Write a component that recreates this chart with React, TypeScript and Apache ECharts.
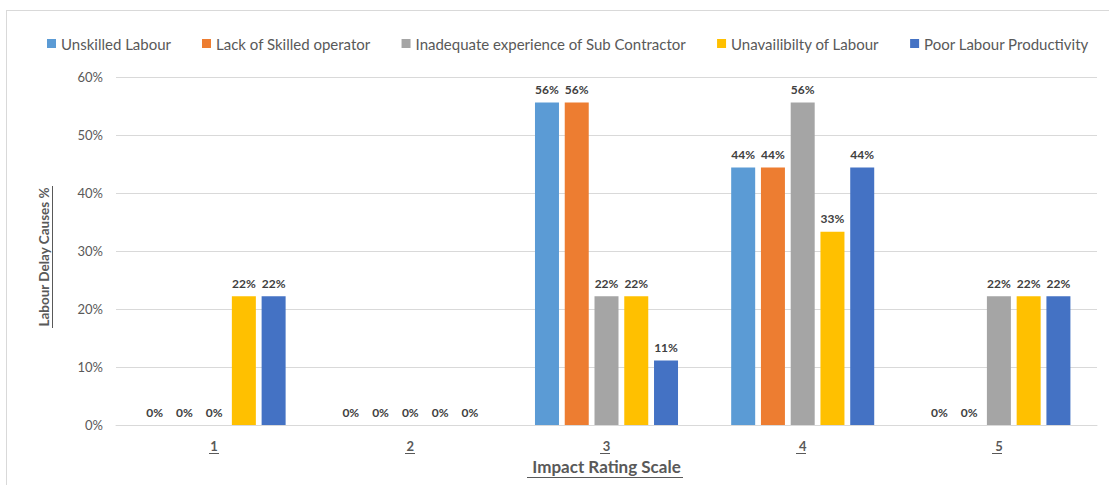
import React, { useEffect, useRef } from "react";
import * as echarts from "echarts";

const categories = ["1", "2", "3", "4", "5"];
const seriesNames = [
  "Unskilled Labour",
  "Lack of Skilled operator",
  "Inadequate experience of Sub Contractor",
  "Unavailibilty of Labour",
  "Poor Labour Productivity",
];
const unskilledLabour = [0, 0, 55.6, 44.4, 0];
const lackOfSkilledOperator = [0, 0, 55.6, 44.4, 0];
const inadequateExperience = [0, 0, 22.2, 55.6, 22.2];
const unavailability = [22.2, 0, 22.2, 33.3, 22.2];
const poorProductivity = [22.2, 0, 11.1, 44.4, 22.2];
const colors = ["#5B9BD5", "#ED7D31", "#A5A5A5", "#FFC000", "#4472C4"];
const yTicks = [0, 10, 20, 30, 40, 50, 60];

const FONT = "Lato, 'Open Sans', sans-serif";

export default function App() {
  const ref = useRef<HTMLDivElement>(null);
  useEffect(() => {
    if (!ref.current) return;
    const chart = echarts.init(ref.current, null, { renderer: "svg" });
    const values = [unskilledLabour, lackOfSkilledOperator, inadequateExperience, unavailability, poorProductivity];
    const series = values.map((d, i) => ({
      name: seriesNames[i],
      type: "bar",
      data: d,
      barWidth: 24,
      barGap: "24%",
      itemStyle: { color: colors[i] },
      label: {
        show: true,
        position: "top",
        distance: 7,
        formatter: (p: any) => Math.round(p.value) + "%",
        color: "#404040",
        fontWeight: "bold",
        fontSize: 12,
        fontFamily: FONT,
      },
    }));
    const lineStyle = { stroke: "#595959", lineWidth: 1 };
    chart.setOption({
      animation: false,
      backgroundColor: "#ffffff",
      textStyle: { fontFamily: FONT },
      legend: {
        top: 31,
        left: 42,
        itemWidth: 9,
        itemHeight: 9,
        itemGap: 31,
        icon: "rect",
        textStyle: { color: "#595959", fontSize: 15, fontFamily: FONT },
        data: seriesNames,
      },
      grid: { left: 116, right: 12, top: 77, bottom: 60, containLabel: false },
      xAxis: {
        type: "category",
        data: categories,
        axisLine: { lineStyle: { color: "#d9d9d9" } },
        axisTick: { show: false },
        axisLabel: { color: "#595959", fontWeight: "bold", fontSize: 13, margin: 14, fontFamily: FONT },
        name: "Impact Rating Scale",
        nameLocation: "middle",
        nameGap: 33,
        nameTextStyle: { color: "#595959", fontWeight: "bold", fontSize: 17, fontFamily: FONT },
      },
      yAxis: {
        type: "value",
        min: yTicks[0],
        max: yTicks[yTicks.length - 1],
        interval: 10,
        axisLabel: { formatter: "{value}%", color: "#595959", fontSize: 13, margin: 13, fontFamily: FONT },
        splitLine: { lineStyle: { color: "#d9d9d9" } },
        axisLine: { show: false },
        axisTick: { show: false },
      },
      graphic: [
        { type: "line", shape: { x1: 6.5, y1: 10, x2: 6.5, y2: 485 }, style: { stroke: "#d9d9d9", lineWidth: 1 } },
        { type: "line", shape: { x1: 6, y1: 10.5, x2: 1109, y2: 10.5 }, style: { stroke: "#d9d9d9", lineWidth: 1 } },
        {
          type: "text",
          x: 44,
          y: 257,
          rotation: Math.PI / 2,
          style: {
            text: "Labour Delay Causes %",
            fill: "#595959",
            font: "bold 13.5px " + FONT,
            align: "center",
            verticalAlign: "middle",
          },
        },
        { type: "line", shape: { x1: 52.5, y1: 186, x2: 52.5, y2: 328 }, style: lineStyle },
        { type: "line", shape: { x1: 527, y1: 477.5, x2: 683, y2: 477.5 }, style: lineStyle },
        { type: "line", shape: { x1: 209, y1: 453.5, x2: 219, y2: 453.5 }, style: lineStyle },
        { type: "line", shape: { x1: 405, y1: 453.5, x2: 415, y2: 453.5 }, style: lineStyle },
        { type: "line", shape: { x1: 600, y1: 453.5, x2: 610, y2: 453.5 }, style: lineStyle },
        { type: "line", shape: { x1: 796, y1: 453.5, x2: 806, y2: 453.5 }, style: lineStyle },
        { type: "line", shape: { x1: 992, y1: 453.5, x2: 1002, y2: 453.5 }, style: lineStyle },
      ],
      series,
    });
    return () => chart.dispose();
  }, []);
  return <div ref={ref} style={{ position: "fixed", left: 0, top: 0, width: 1109, height: 485 }} />;
}
